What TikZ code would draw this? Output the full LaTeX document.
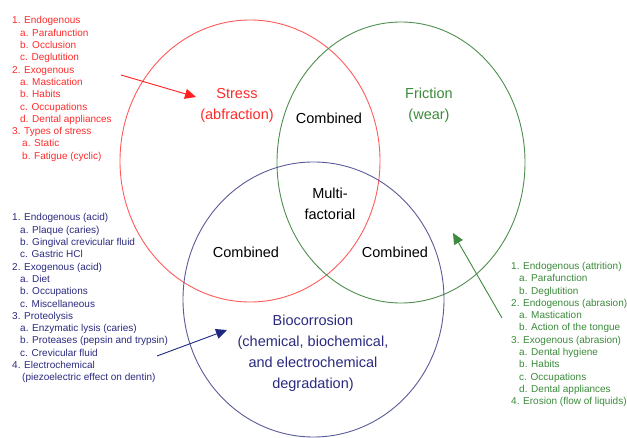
\documentclass[tikz,border=0pt]{standalone}
\usepackage{fontspec}
\setmainfont{Liberation Sans}
\usetikzlibrary{arrows.meta}
\definecolor{rline}{HTML}{FF5A5A}
\definecolor{rtext}{HTML}{FF2A2A}
\definecolor{gline}{HTML}{4E8E4E}
\definecolor{gtext}{HTML}{3A8A3A}
\definecolor{bline}{HTML}{5A5A98}
\definecolor{btext}{HTML}{2A2A80}
\definecolor{garrow}{HTML}{3E8A3E}
\definecolor{barrow}{HTML}{1E2A80}
\definecolor{rarrow}{HTML}{FF2020}
\tikzset{
  ring/.style={line width=0.9pt},
  biglabel/.style={font=\fontsize{14.5}{21}\selectfont, align=center, inner sep=0pt},
  listtext/.style={font=\fontsize{10}{12.3}\selectfont, align=left, inner sep=0pt, anchor=north west},
  pointer/.style={line width=0.9pt, -{Triangle[length=11pt,width=10pt]}},
}
\newcommand{\sub}{\hspace*{8pt}}
\newcommand{\subb}{\hspace*{10pt}}
\begin{document}
\begin{tikzpicture}[x=1pt,y=-1pt]
\useasboundingbox (0,0) rectangle (627,438);
% circles
\draw[ring, rline] (250,161) ellipse [x radius=130, y radius=141];
\draw[ring, gline] (401,162.5) ellipse [x radius=124, y radius=140.5];
\draw[ring, bline] (313.5,299.5) ellipse [x radius=130.5, y radius=137.5];
% labels
\node[biglabel, text=rtext] (stress) at (237,105) {Stress\\(abfraction)};
\node[biglabel, text=gtext] (friction) at (429,105) {Friction\\(wear)};
\node[biglabel] (combtop) at (329,118) {Combined};
\node[biglabel] (multi) at (330,204) {Multi-\\factorial};
\node[biglabel] (combleft) at (246,252.5) {Combined};
\node[biglabel] (combright) at (395,252.5) {Combined};
\node[biglabel, text=btext] (bio) at (313,353) {Biocorrosion\\(chemical, biochemical,\\and electrochemical\\degradation)};
% lists
\node[listtext, text=rtext] (rlist) at (12,16.5) {1. Endogenous\\
\sub a. Parafunction\\
\sub b. Occlusion\\
\sub c. Deglutition\\
2. Exogenous\\
\sub a. Mastication\\
\sub b. Habits\\
\sub c. Occupations\\
\sub d. Dental appliances\\
3. Types of stress\\
\subb a. Static\\
\subb b. Fatigue (cyclic)};
\node[listtext, text=btext] (blist) at (12,213.5) {1. Endogenous (acid)\\
\sub a. Plaque (caries)\\
\sub b. Gingival crevicular fluid\\
\sub c. Gastric HCl\\
2. Exogenous (acid)\\
\sub a. Diet\\
\sub b. Occupations\\
\sub c. Miscellaneous\\
3. Proteolysis\\
\sub a. Enzymatic lysis (caries)\\
\sub b. Proteases (pepsin and trypsin)\\
\sub c. Crevicular fluid\\
4. Electrochemical\\
\subb (piezoelectric effect on dentin)};
\node[listtext, text=gtext] (glist) at (511,262) {1. Endogenous (attrition)\\
\sub a. Parafunction\\
\sub b. Deglutition\\
2. Endogenous (abrasion)\\
\sub a. Mastication\\
\sub b. Action of the tongue\\
3. Exogenous (abrasion)\\
\sub a. Dental hygiene\\
\sub b. Habits\\
\sub c. Occupations\\
\sub d. Dental appliances\\
4. Erosion (flow of liquids)};
% arrows
\coordinate (rs) at (121,75);
\coordinate (rt) at (196,97);
\coordinate (bs) at (157,356);
\coordinate (bt) at (227,330);
\coordinate (gs) at (502,318);
\coordinate (gt) at (453,233);
\draw[pointer, color=rarrow] (rs) -- (rt);
\draw[pointer, color=barrow] (bs) -- (bt);
\draw[pointer, color=garrow] (gs) -- (gt);
\end{tikzpicture}
\end{document}
